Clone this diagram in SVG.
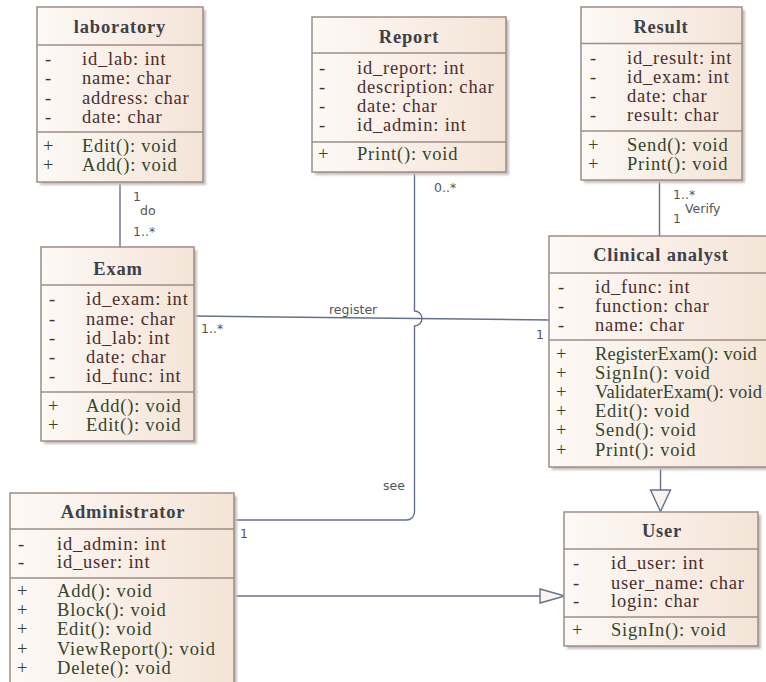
<svg xmlns="http://www.w3.org/2000/svg" width="766" height="682" viewBox="0 0 766 682">
  <defs>
    <linearGradient id="boxFill" x1="0" y1="0" x2="1" y2="0">
      <stop offset="0" stop-color="#fdf9f6"/>
      <stop offset="1" stop-color="#f4e4d7"/>
    </linearGradient>
    <filter id="shadow" x="-10%" y="-10%" width="120%" height="120%">
      <feGaussianBlur stdDeviation="1.2"/>
    </filter>
    <style>
      .box { fill: url(#boxFill); stroke: #9e8c88; stroke-width: 1.5; }
      .shd { fill: #c4c0be; filter: url(#shadow); }
      .sep { stroke: #9e8c88; stroke-width: 1.5; }
      .title { font-family: "Liberation Serif", "Times New Roman", serif; font-size: 18.5px; font-weight: bold; fill: #3e4148; text-anchor: middle; letter-spacing: 0.8px; }
      .attr { font-family: "Liberation Serif", "Times New Roman", serif; font-size: 18.5px; fill: #4b2d2d; letter-spacing: 0.8px; }
      .meth { font-family: "Liberation Serif", "Times New Roman", serif; font-size: 18.5px; fill: #34452a; letter-spacing: 0.8px; }
      .tight { letter-spacing: 0.1px; }
      .conn { fill: none; stroke: #66708c; stroke-width: 1.4; }
      .head { fill: #faf3f0; stroke: #66708c; stroke-width: 1.4; }
      .lbl { font-family: "DejaVu Sans", "Liberation Sans", sans-serif; font-size: 12.5px; fill: #555; }
    </style>
  </defs>

  <!-- connectors -->
  <g id="connectors">
    <!-- laboratory - Exam -->
    <line class="conn" x1="120" y1="182" x2="120" y2="247"/>
    <text class="lbl" x="133" y="201">1</text>
    <text class="lbl" x="140" y="215">do</text>
    <text class="lbl" x="133" y="236">1..*</text>

    <!-- Result - Clinical analyst -->
    <line class="conn" x1="659.5" y1="180" x2="659.5" y2="236"/>
    <text class="lbl" x="673" y="199">1..*</text>
    <text class="lbl" x="685" y="213">Verify</text>
    <text class="lbl" x="673" y="223">1</text>

    <!-- Exam - Clinical analyst (register) -->
    <line class="conn" x1="194" y1="316" x2="549" y2="320"/>
    <text class="lbl" x="329" y="313.5">register</text>
    <text class="lbl" x="201" y="333">1..*</text>
    <text class="lbl" x="536" y="338.5">1</text>

    <!-- Report - Administrator (see), hopping over register -->
    <path class="conn" d="M414.5 172 V311 A7.5 7.5 0 0 1 414.5 326 V512 A8 8 0 0 1 406.5 520 H234"/>
    <text class="lbl" x="434" y="192">0..*</text>
    <text class="lbl" x="383" y="490">see</text>
    <text class="lbl" x="240" y="537.5">1</text>

    <!-- Administrator generalizes User -->
    <line class="conn" x1="234" y1="596" x2="540" y2="596"/>
    <polygon class="head" points="540,589 565,596 540,603"/>

    <!-- Clinical analyst generalizes User -->
    <line class="conn" x1="660.5" y1="467" x2="660.5" y2="490"/>
    <polygon class="head" points="650.5,490 670.5,490 660.5,511.5"/>
  </g>

  <!-- laboratory -->
  <g id="laboratory">
    <rect class="shd" x="40" y="10" width="166" height="175"/>
    <rect class="box" x="37" y="7" width="166" height="175"/>
    <line class="sep" x1="37" y1="45" x2="203" y2="45"/>
    <line class="sep" x1="37" y1="132" x2="203" y2="132"/>
    <text class="title" x="120" y="33">laboratory</text>
    <text class="attr" x="45" y="65">-</text><text class="attr" x="82" y="65">id_lab: int</text>
    <text class="attr" x="45" y="84">-</text><text class="attr" x="82" y="84">name: char</text>
    <text class="attr" x="45" y="103.5">-</text><text class="attr" x="82" y="103.5">address: char</text>
    <text class="attr" x="45" y="123">-</text><text class="attr" x="82" y="123">date: char</text>
    <text class="meth" x="43" y="152">+</text><text class="meth" x="82" y="152">Edit(): void</text>
    <text class="meth" x="43" y="171">+</text><text class="meth" x="82" y="171">Add(): void</text>
  </g>

  <!-- Report -->
  <g id="report">
    <rect class="shd" x="315" y="20" width="194" height="155"/>
    <rect class="box" x="312" y="17" width="194" height="155"/>
    <line class="sep" x1="312" y1="53" x2="506" y2="53"/>
    <line class="sep" x1="312" y1="142" x2="506" y2="142"/>
    <text class="title" x="409" y="43">Report</text>
    <text class="attr" x="319" y="74">-</text><text class="attr" x="357" y="74">id_report: int</text>
    <text class="attr" x="319" y="93">-</text><text class="attr" x="357" y="93">description: char</text>
    <text class="attr" x="319" y="112">-</text><text class="attr" x="357" y="112">date: char</text>
    <text class="attr" x="319" y="131">-</text><text class="attr" x="357" y="131">id_admin: int</text>
    <text class="meth" x="318" y="159.5">+</text><text class="meth" x="357" y="159.5">Print(): void</text>
  </g>

  <!-- Result -->
  <g id="result">
    <rect class="shd" x="584" y="10" width="161" height="173"/>
    <rect class="box" x="581" y="7" width="161" height="173"/>
    <line class="sep" x1="581" y1="43.5" x2="742" y2="43.5"/>
    <line class="sep" x1="581" y1="131" x2="742" y2="131"/>
    <text class="title" x="661" y="32.5">Result</text>
    <text class="attr" x="590" y="64">-</text><text class="attr" x="627" y="64">id_result: int</text>
    <text class="attr" x="590" y="83">-</text><text class="attr" x="627" y="83">id_exam: int</text>
    <text class="attr" x="590" y="102">-</text><text class="attr" x="627" y="102">date: char</text>
    <text class="attr" x="590" y="121">-</text><text class="attr" x="627" y="121">result: char</text>
    <text class="meth" x="588" y="151">+</text><text class="meth" x="627" y="151">Send(): void</text>
    <text class="meth" x="588" y="169.5">+</text><text class="meth" x="627" y="169.5">Print(): void</text>
  </g>

  <!-- Exam -->
  <g id="exam">
    <rect class="shd" x="44" y="250" width="153" height="194"/>
    <rect class="box" x="41" y="247" width="153" height="194"/>
    <line class="sep" x1="41" y1="285" x2="194" y2="285"/>
    <line class="sep" x1="41" y1="392" x2="194" y2="392"/>
    <text class="title" x="118" y="274.5">Exam</text>
    <text class="attr" x="49" y="305">-</text><text class="attr" x="86" y="305">id_exam: int</text>
    <text class="attr" x="49" y="324.5">-</text><text class="attr" x="86" y="324.5">name: char</text>
    <text class="attr" x="49" y="343.5">-</text><text class="attr" x="86" y="343.5">id_lab: int</text>
    <text class="attr" x="49" y="363">-</text><text class="attr" x="86" y="363">date: char</text>
    <text class="attr" x="49" y="382">-</text><text class="attr" x="86" y="382">id_func: int</text>
    <text class="meth" x="48" y="412">+</text><text class="meth" x="86" y="412">Add(): void</text>
    <text class="meth" x="48" y="430.5">+</text><text class="meth" x="86" y="430.5">Edit(): void</text>
  </g>

  <!-- Clinical analyst -->
  <g id="clinical-analyst">
    <rect class="shd" x="552" y="239" width="225" height="231"/>
    <rect class="box" x="549" y="236" width="225" height="231"/>
    <line class="sep" x1="549" y1="273" x2="774" y2="273"/>
    <line class="sep" x1="549" y1="340" x2="774" y2="340"/>
    <text class="title" x="661" y="261">Clinical analyst</text>
    <text class="attr" x="558" y="293">-</text><text class="attr" x="595" y="293">id_func: int</text>
    <text class="attr" x="558" y="312">-</text><text class="attr" x="595" y="312">function: char</text>
    <text class="attr" x="558" y="331">-</text><text class="attr" x="595" y="331">name: char</text>
    <text class="meth" x="556" y="359.5">+</text><text class="meth tight" x="595" y="359.5">RegisterExam(): void</text>
    <text class="meth" x="556" y="378.5">+</text><text class="meth" x="595" y="378.5">SignIn(): void</text>
    <text class="meth" x="556" y="398">+</text><text class="meth tight" x="595" y="398">ValidaterExam(): void</text>
    <text class="meth" x="556" y="417">+</text><text class="meth" x="595" y="417">Edit(): void</text>
    <text class="meth" x="556" y="436">+</text><text class="meth" x="595" y="436">Send(): void</text>
    <text class="meth" x="556" y="455.5">+</text><text class="meth" x="595" y="455.5">Print(): void</text>
  </g>

  <!-- Administrator -->
  <g id="administrator">
    <rect class="shd" x="13" y="496" width="224" height="200"/>
    <rect class="box" x="10" y="493" width="224" height="200"/>
    <line class="sep" x1="10" y1="529" x2="234" y2="529"/>
    <line class="sep" x1="10" y1="578" x2="234" y2="578"/>
    <text class="title" x="123" y="517.5">Administrator</text>
    <text class="attr" x="18" y="549.5">-</text><text class="attr" x="57" y="549.5">id_admin: int</text>
    <text class="attr" x="18" y="568">-</text><text class="attr" x="57" y="568">id_user: int</text>
    <text class="meth" x="17" y="597">+</text><text class="meth" x="57" y="597">Add(): void</text>
    <text class="meth" x="17" y="616">+</text><text class="meth" x="57" y="616">Block(): void</text>
    <text class="meth" x="17" y="635">+</text><text class="meth" x="57" y="635">Edit(): void</text>
    <text class="meth" x="17" y="655">+</text><text class="meth" x="57" y="655">ViewReport(): void</text>
    <text class="meth" x="17" y="673.5">+</text><text class="meth" x="57" y="673.5">Delete(): void</text>
  </g>

  <!-- User -->
  <g id="user">
    <rect class="shd" x="567" y="515" width="194" height="134"/>
    <rect class="box" x="564" y="512" width="194" height="134"/>
    <line class="sep" x1="564" y1="549" x2="758" y2="549"/>
    <line class="sep" x1="564" y1="617" x2="758" y2="617"/>
    <text class="title" x="662" y="537">User</text>
    <text class="attr" x="573" y="568.5">-</text><text class="attr" x="611" y="568.5">id_user: int</text>
    <text class="attr" x="573" y="588.5">-</text><text class="attr" x="611" y="588.5">user_name: char</text>
    <text class="attr" x="573" y="607">-</text><text class="attr" x="611" y="607">login: char</text>
    <text class="meth" x="572" y="636">+</text><text class="meth" x="611" y="636">SignIn(): void</text>
  </g>
</svg>
